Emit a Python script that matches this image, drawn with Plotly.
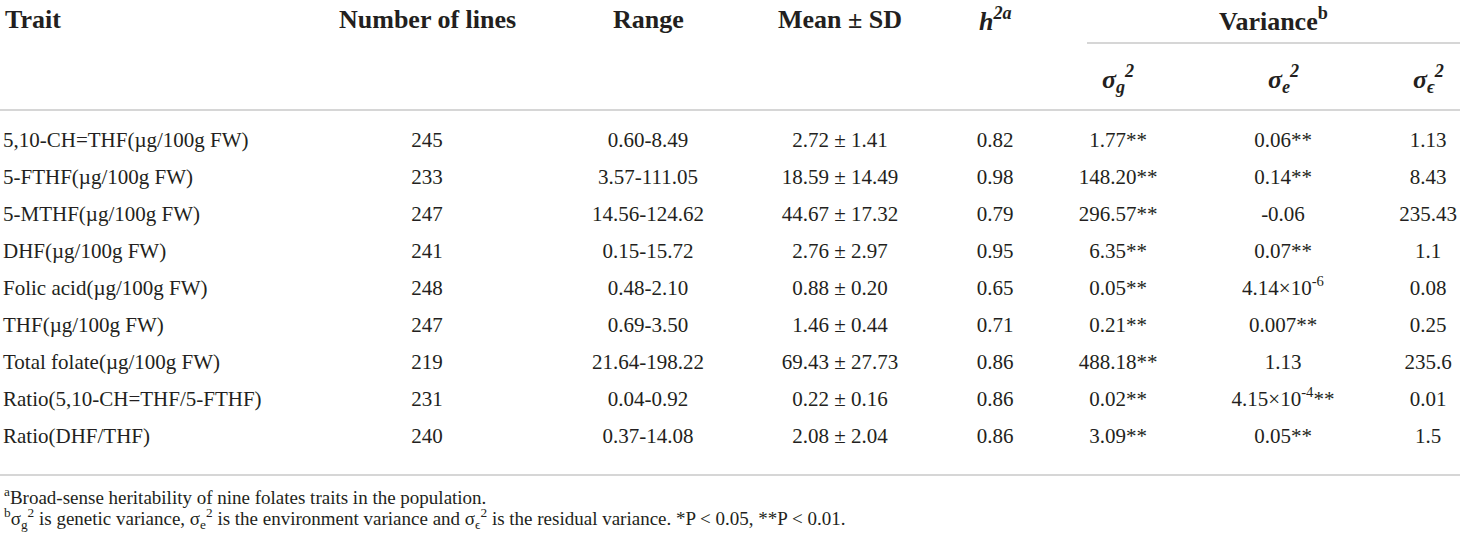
import plotly.graph_objects as go

# --------------------------------------
# Table data
# --------------------------------------
traits = [
    "5,10-CH=THF(µg/100g FW)",
    "5-FTHF(µg/100g FW)",
    "5-MTHF(µg/100g FW)",
    "DHF(µg/100g FW)",
    "Folic acid(µg/100g FW)",
    "THF(µg/100g FW)",
    "Total folate(µg/100g FW)",
    "Ratio(5,10-CH=THF/5-FTHF)",
    "Ratio(DHF/THF)",
]
n_lines = [245, 233, 247, 241, 248, 247, 219, 231, 240]
ranges = ["0.60-8.49", "3.57-111.05", "14.56-124.62", "0.15-15.72", "0.48-2.10",
          "0.69-3.50", "21.64-198.22", "0.04-0.92", "0.37-14.08"]
means = ["2.72", "18.59", "44.67", "2.76", "0.88", "1.46", "69.43", "0.22", "2.08"]
sds = ["1.41", "14.49", "17.32", "2.97", "0.20", "0.44", "27.73", "0.16", "2.04"]
h2 = ["0.82", "0.98", "0.79", "0.95", "0.65", "0.71", "0.86", "0.86", "0.86"]
var_g = ["1.77**", "148.20**", "296.57**", "6.35**", "0.05**", "0.21**",
         "488.18**", "0.02**", "3.09**"]
var_e = ["0.06**", "0.14**", "-0.06", "0.07**", "4.14×10<sup>-6</sup>", "0.007**",
         "1.13", "4.15×10<sup>-4</sup>**", "0.05**"]
var_res = ["1.13", "8.43", "235.43", "1.1", "0.08", "0.25", "235.6", "0.01", "1.5"]

headers = ["<b>Trait</b>", "<b>Number of lines</b>", "<b>Range</b>", "<b>Mean ± SD</b>",
           "<b><i>h</i><sup><i>2a</i></sup></b>"]
sub_headers = ["<b><i>σ<sub>g</sub><sup>2</sup></i></b>",
               "<b><i>σ<sub>e</sub><sup>2</sup></i></b>",
               "<b><i>σ<sub>ϵ</sub><sup>2</sup></i></b>"]
footnotes = [
    "<sup>a</sup>Broad-sense heritability of nine folates traits in the population.",
    "<sup>b</sup>σ<sub>g</sub><sup>2</sup> is genetic variance, σ<sub>e</sub><sup>2</sup> is the "
    "environment variance and σ<sub>ϵ</sub><sup>2</sup> is the residual variance. "
    "*P &lt; 0.05, **P &lt; 0.01.",
]

# --------------------------------------
# Layout: one data unit = one pixel of the page
# --------------------------------------
W, H = 1460, 536
FONT = "Liberation Serif"
TXT = "#231f20"
LINE = "#d6d6d6"

col_x = [3, 427, 648, 840, 995, 1118, 1283, 1428]
row0, row_step = 142, 37
rows_y = [row0 + row_step * i for i in range(len(traits))]

columns = [
    traits,
    [str(v) for v in n_lines],
    ranges,
    [f"{m} ± {s}" for m, s in zip(means, sds)],
    h2,
    var_g,
    var_e,
    var_res,
]

fig = go.Figure()

for i, col in enumerate(columns):
    fig.add_trace(go.Scatter(
        x=[col_x[i]] * len(col),
        y=rows_y,
        mode="text",
        text=col,
        textposition="middle right" if i == 0 else "middle center",
        textfont=dict(family=FONT, size=21, color=TXT),
        hoverinfo="skip",
        showlegend=False,
        cliponaxis=False,
    ))

# header texts
for i, h in enumerate(headers):
    fig.add_annotation(x=col_x[i], y=19, text=h, showarrow=False,
                       xanchor="left" if i == 0 else "center", yanchor="middle",
                       font=dict(family=FONT, size=26, color=TXT))
fig.add_annotation(x=1273, y=19, text="<b>Variance<sup>b</sup></b>", showarrow=False,
                   xanchor="center", yanchor="middle",
                   font=dict(family=FONT, size=26, color=TXT))
for i, h in enumerate(sub_headers):
    fig.add_annotation(x=col_x[5 + i], y=79, text=h, showarrow=False,
                       xanchor="center", yanchor="middle",
                       font=dict(family=FONT, size=26, color=TXT))

# footnotes
for i, f in enumerate(footnotes):
    fig.add_annotation(x=2, y=496 + 22 * i, text=f, showarrow=False,
                       xanchor="left", yanchor="middle",
                       font=dict(family=FONT, size=19, color=TXT))

# rules
fig.add_shape(type="line", x0=1087, x1=W, y0=43, y1=43, line=dict(color=LINE, width=2))
fig.add_shape(type="line", x0=0, x1=W, y0=110, y1=110, line=dict(color=LINE, width=2))
fig.add_shape(type="line", x0=0, x1=W, y0=475, y1=475, line=dict(color=LINE, width=2))

fig.update_layout(
    width=W,
    height=H,
    margin=dict(l=0, r=0, t=0, b=0),
    paper_bgcolor="white",
    plot_bgcolor="white",
    hovermode=False,
    xaxis=dict(range=[0, W], visible=False, fixedrange=True),
    yaxis=dict(range=[H, 0], visible=False, fixedrange=True),
)

# drop the default body margin so the figure fills the window exactly
fig.write_html("out.html",
               config={"displayModeBar": False},
               post_script="document.body.style.margin='0';document.body.style.overflow='hidden';")
